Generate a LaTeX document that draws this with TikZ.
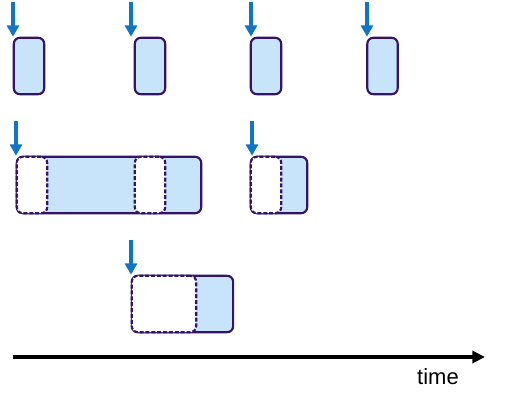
\documentclass[tikz,border=0pt]{standalone}
\usepackage{fontspec}
\setmainfont{Liberation Sans}
\usetikzlibrary{arrows.meta}
\definecolor{jobfill}{RGB}{200,228,250}
\definecolor{jobline}{RGB}{52,20,102}
\definecolor{arrowblue}{RGB}{16,117,196}

\begin{document}
\begin{tikzpicture}[x=0.75pt,y=0.75pt,yscale=-1,xscale=1,
  job/.style={draw=jobline, fill=jobfill, line width=1.6pt, rounded corners=4.5pt, inner sep=0pt, minimum height=42.3pt},
  freed/.style={draw=jobline, fill=white, dash pattern=on 3pt off 1.4pt, line width=1.6pt, rounded corners=4.5pt, inner sep=0pt, minimum height=42.3pt},
  arrival/.style={draw=arrowblue, line width=2.8pt, -{Triangle[width=9pt,length=8.5pt]}}]
\useasboundingbox (0,0) rectangle (513,409);

%Jobs, first row
\node [job, minimum width=22.8pt] (a1) at (29,66) {};
\node [job, minimum width=22.8pt] (a2) at (150,66) {};
\node [job, minimum width=22.8pt] (a3) at (266,66) {};
\node [job, minimum width=22.8pt] (a4) at (382.5,66) {};

%Jobs, second row
\node [job, minimum width=138.3pt] (b1) at (109,185) {};
\node [freed, minimum width=22.8pt] (b1x) at (32,185) {};
\node [freed, minimum width=22.8pt] (b1y) at (150,185) {};
\node [job, minimum width=42.3pt] (b2) at (279,185) {};
\node [freed, minimum width=22.8pt] (b2x) at (266,185) {};

%Jobs, third row
\node [job, minimum width=76pt] (c1) at (182.5,304) {};
\node [freed, minimum width=48.3pt] (c1x) at (164,304) {};

%Arrivals
\coordinate (p1) at (13,2);
\coordinate (p2) at (131,2);
\coordinate (p3) at (251,2);
\coordinate (p4) at (367,2);
\coordinate (q1) at (16,121);
\coordinate (q2) at (252,121);
\coordinate (r1) at (131,240);
\draw [arrival] (p1) -- (p1 |- a1.north);
\draw [arrival] (p2) -- (p2 |- a2.north);
\draw [arrival] (p3) -- (p3 |- a3.north);
\draw [arrival] (p4) -- (p4 |- a4.north);
\draw [arrival] (q1) -- (q1 |- b1.north);
\draw [arrival] (q2) -- (q2 |- b2.north);
\draw [arrival] (r1) -- (r1 |- c1.north);

%Time axis
\coordinate (t0) at (12.7,357);
\coordinate (t1) at (485,357);
\draw [line width=2.7pt, -{Triangle[width=9pt,length=9.5pt]}] (t0) -- (t1);

% Text Node
\node (time) at (438,377) {\fontsize{16.5}{19}\selectfont time};

\end{tikzpicture}
\end{document}
